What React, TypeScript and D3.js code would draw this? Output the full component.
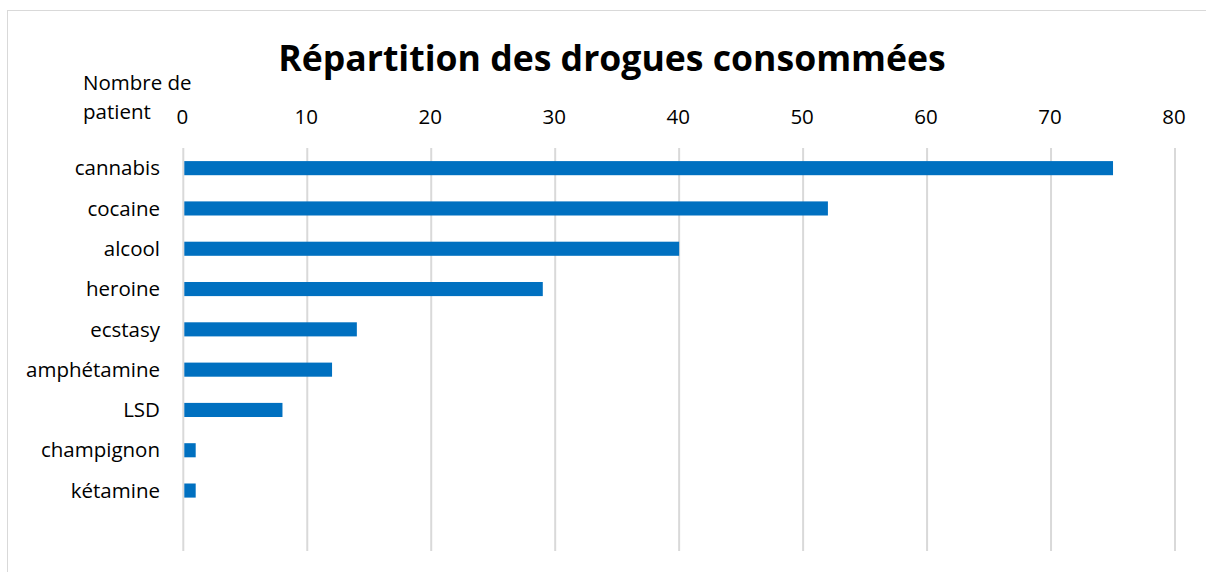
import React from "react";
import * as d3 from "d3";

const categories = ["cannabis", "cocaine", "alcool", "heroine", "ecstasy", "amphétamine", "LSD", "champignon", "kétamine", ""];
const values = [75, 52, 40, 29, 14, 12, 8, 1, 1, null];
const xTicks = [0, 10, 20, 30, 40, 50, 60, 70, 80];
const title = "Répartition des drogues consommées";
const axisTitle = ["Nombre de", "patient"];

const W = 1206;
const H = 572;
const margin = { left: 183.3, right: 1175, top: 148, bottom: 551 };
const FONT = "'Open Sans', sans-serif";
const FS = 20.5;

export default function App() {
  const x = d3.scaleLinear().domain([0, 80]).range([margin.left, margin.right]);
  const y = d3.scaleBand().domain(categories.map((c, i) => String(i))).range([margin.top, margin.bottom]).paddingInner(0.65).paddingOuter(0.325);
  return (
    <div style={{ position: "fixed", left: 0, top: 0, width: W, height: H, overflow: "hidden", background: "#fff" }}>
      <svg width={W} height={H} style={{ display: "block" }}>
        <line x1={7.5} x2={7.5} y1={10} y2={H} stroke="#d9d9d9" strokeWidth={1} />
        <line x1={7} x2={W} y1={10.5} y2={10.5} stroke="#d9d9d9" strokeWidth={1} />
        <text x={612} y={71} textAnchor="middle" fontFamily={FONT} fontWeight={700} fontSize={35.6} fill="#000">{title}</text>
        {xTicks.map((t) => (
          <g key={t}>
            <line x1={x(t)} x2={x(t)} y1={margin.top} y2={margin.bottom} stroke="#d9d9d9" strokeWidth={2} />
            <text x={x(t) - 1} y={124} textAnchor="middle" fontFamily={FONT} fontSize={FS} fill="#000">{t}</text>
          </g>
        ))}
        <text x={83} y={90} fontFamily={FONT} fontSize={FS} fill="#000">{axisTitle[0]}</text>
        <text x={83} y={119} fontFamily={FONT} fontSize={FS} fill="#000">{axisTitle[1]}</text>
        {categories.map((c, i) => {
          const v = values[i];
          const yy = y(String(i))!;
          return (
            <g key={i}>
              {c && (
                <text x={160} y={yy + y.bandwidth() / 2} dy="0.35em" textAnchor="end" fontFamily={FONT} fontSize={FS} fill="#000">{c}</text>
              )}
              {v != null && (
                <rect x={x(0) + 1} y={yy} width={x(v) - x(0) - 1} height={y.bandwidth()} fill="#0070C0" />
              )}
            </g>
          );
        })}
      </svg>
    </div>
  );
}
